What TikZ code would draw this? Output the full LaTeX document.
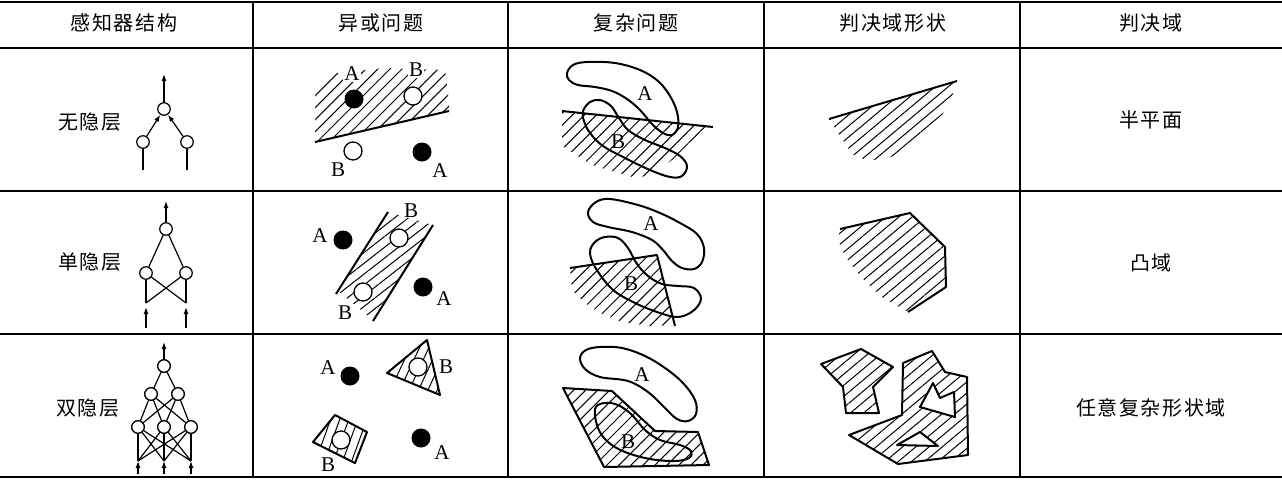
\documentclass[tikz,border=0pt]{standalone}
\usepackage{fontspec}
\setmainfont{Liberation Serif}
\newfontfamily\cjk[LetterSpace=8]{Noto Sans CJK SC}
\usetikzlibrary{patterns.meta,arrows.meta}
\begin{document}
\begin{tikzpicture}[x=1pt,y=-1pt,
  gridline/.style={line width=1.2pt},
  heavy/.style={line width=2.5pt},
  hd/.style={font=\cjk\fontsize{20}{20}\selectfont, inner sep=0},
  lab/.style={font=\fontsize{21}{21}\selectfont, inner sep=0},
  neuron/.style={circle,draw,line width=1.2pt,fill=white,minimum size=12.5pt,inner sep=0},
  arr/.style={line width=1.2pt,-{Latex[length=7pt,width=5pt]}},
  conn/.style={line width=1.2pt},
  dotA/.style={circle,fill=black,minimum size=19pt,inner sep=0},
  dotB/.style={circle,draw,line width=1.3pt,fill=white,minimum size=18pt,inner sep=0},
  bnd/.style={line width=2pt, line join=round},
  hatch/.style={pattern={Lines[angle=#1,distance=8.5pt,line width=1pt]}},
  hatch/.default=45,
]
\useasboundingbox (0,0) rectangle (1282,483);
% ---------------- table ----------------
\draw[heavy] (0,2) -- (1282,2);
\draw[line width=1.6pt] (0,48) -- (1282,48);
\draw[gridline] (0,191) -- (1282,191);
\draw[gridline] (0,334) -- (1282,334);
\draw[heavy] (0,477) -- (1282,477);
\foreach \x in {253,508,764,1020} \draw[gridline] (\x,2) -- (\x,477);
% headers
\node[hd] (h1) at (124,23) {感知器结构};
\node[hd] (h2) at (381,23) {异或问题};
\node[hd] (h3) at (636,23) {复杂问题};
\node[hd] (h4) at (893,23) {判决域形状};
\node[hd] (h5) at (1151,23) {判决域};
% row labels
\node[hd] (r1) at (90,122) {无隐层};
\node[hd] (r2) at (90,262) {单隐层};
\node[hd] (r3) at (88,408) {双隐层};
\node[hd] (d1) at (1151,120) {半平面};
\node[hd] (d2) at (1151,263) {凸域};
\node[hd] (d3) at (1151,408) {任意复杂形状域};
% ---------------- networks ----------------
% no hidden layer
\node[neuron] (n1o) at (164,109) {};
\node[neuron] (n1a) at (143,142) {};
\node[neuron] (n1b) at (187,142) {};
\coordinate (n1out) at (164,74);
\coordinate (n1ia) at (143,170);
\coordinate (n1ib) at (187,170);
\draw[arr] (n1o) -- (n1out);
\draw[arr] (n1a) -- (n1o);
\draw[arr] (n1b) -- (n1o);
\draw[conn] (n1ia) -- (n1a);
\draw[conn] (n1ib) -- (n1b);
% one hidden layer
\node[neuron] (n2o) at (166,229) {};
\node[neuron] (n2a) at (146,273) {};
\node[neuron] (n2b) at (186,273) {};
\coordinate (n2out) at (166,201);
\coordinate (n2pa) at (146,303);
\coordinate (n2pb) at (186,303);
\coordinate (n2ia) at (146,328);
\coordinate (n2ib) at (186,328);
\draw[arr] (n2o) -- (n2out);
\draw[conn] (n2a) -- (n2o);
\draw[conn] (n2b) -- (n2o);
\draw[conn] (n2a) -- (n2pa);
\draw[conn] (n2a) -- (n2pb);
\draw[conn] (n2b) -- (n2pa);
\draw[conn] (n2b) -- (n2pb);
\draw[arr,shorten >=4pt] (n2ia) -- (n2pa);
\draw[arr,shorten >=4pt] (n2ib) -- (n2pb);
% two hidden layers
\node[neuron] (n3o) at (164,366) {};
\node[neuron] (n3p) at (151,394) {};
\node[neuron] (n3q) at (178,394) {};
\node[neuron] (n3a) at (138,427) {};
\node[neuron] (n3b) at (164,427) {};
\node[neuron] (n3c) at (191,427) {};
\coordinate (n3out) at (164,342);
\coordinate (n3pa) at (138,461);
\coordinate (n3pb) at (164,461);
\coordinate (n3pc) at (191,461);
\coordinate (n3ia) at (138,474);
\coordinate (n3ib) at (164,474);
\coordinate (n3ic) at (191,474);
\draw[arr] (n3o) -- (n3out);
\foreach \h in {n3p,n3q} {
  \draw[conn] (\h) -- (n3o);
  \foreach \g in {n3a,n3b,n3c} \draw[conn] (\g) -- (\h);
}
\foreach \g in {n3a,n3b,n3c} {
  \foreach \p in {n3pa,n3pb,n3pc} \draw[conn] (\g) -- (\p);
}
\draw[arr] (n3ia) -- (n3pa);
\draw[arr] (n3ib) -- (n3pb);
\draw[arr] (n3ic) -- (n3pc);
\foreach \h in {n3o,n3p,n3q,n3a,n3b,n3c} \node[neuron] at (\h) {};
% ---------------- XOR ----------------
% row 1
\fill[hatch] (315,142) -- (449,111) -- (449,100) -- (445,70) -- (385,68) -- (330,74) -- (315,88) -- cycle;
\coordinate (x1l) at (315,142);
\coordinate (x1r) at (449,111);
\draw[bnd] (x1l) -- (x1r);
\node[dotA] (x1a) at (354,99) {};
\node[dotB] (x1b) at (413,96) {};
\node[dotB] (x1c) at (353,151) {};
\node[dotA] (x1d) at (422,152) {};
\node[lab,fill=white,inner sep=1pt] (x1la) at (352,74) {A};
\node[lab,fill=white,inner sep=1pt] (x1lb) at (416,70) {B};
\node[lab] (x1lc) at (338,170) {B};
\node[lab] (x1ld) at (440,171) {A};
% row 2
\fill[hatch=38] (338,291) -- (388,212) -- (433,225) -- (373,320) -- cycle;
\coordinate (x2a1) at (336,294);
\coordinate (x2a2) at (388,212);
\coordinate (x2b1) at (373,321);
\coordinate (x2b2) at (433,225);
\draw[bnd] (x2a1) -- (x2a2);
\draw[bnd] (x2b1) -- (x2b2);
\node[dotB] (x2b) at (399,238) {};
\node[dotB] (x2c) at (363,292) {};
\node[dotA] (x2a) at (343,240) {};
\node[dotA] (x2d) at (423,287) {};
\node[lab] (x2la) at (320,236) {A};
\node[lab] (x2lb) at (411,211) {B};
\node[lab] (x2lc) at (345,313) {B};
\node[lab] (x2ld) at (444,299) {A};
% row 3
\draw[bnd,hatch=65] (387,373) -- (427,340) -- (440,395) -- cycle;
\node[dotB] (x3b) at (418,367) {};
\draw[bnd,hatch=70] (313,442) -- (335,415) -- (367,432) -- (355,463) -- cycle;
\node[dotB] (x3c) at (341,440) {};
\node[dotA] (x3a) at (350,376) {};
\node[dotA] (x3d) at (421,438) {};
\node[lab] (x3la) at (328,368) {A};
\node[lab] (x3lb) at (446,367) {B};
\node[lab] (x3lc) at (328,465) {B};
\node[lab] (x3ld) at (442,453) {A};
% ---------------- complex problem ----------------
% row 1
\fill[hatch] (562,111) -- (713,127) -- (705,131) -- (690,142) -- (672,160) -- (650,175) -- (636,178) -- (615,172) -- (592,165) -- (570,151) -- (562,146) -- cycle;
\coordinate (c1l) at (562,111);
\coordinate (c1r) at (713,127);
\draw[bnd] (c1l) -- (c1r);
\draw[bnd] plot[smooth cycle,tension=0.6] coordinates {(567,73) (573,65) (587,62) (615,63) (640,70) (658,81) (670,96) (677,112) (678,127) (672,135) (663,133) (652,124) (640,110) (627,99) (612,91) (595,87) (578,85) (569,80)};
\draw[bnd] plot[smooth cycle,tension=0.6] coordinates {(583,111) (590,102) (600,100) (611,106) (619,118) (628,130) (645,140) (665,148) (680,156) (687,166) (682,176) (670,177) (650,170) (625,158) (603,146) (590,133) (584,121)};
\node[lab] (c1a) at (645,94) {A};
\node[lab] (c1b) at (618,142) {B};
% row 2
\fill[hatch] (570,268) -- (657,255) -- (675,325) -- (650,326) -- (622,322) -- (600,313) -- (585,303) -- (572,290) -- cycle;
\coordinate (c2a) at (570,268);
\coordinate (c2b) at (657,255);
\coordinate (c2c) at (675,326);
\draw[bnd] (c2a) -- (c2b) -- (c2c);
\draw[bnd] plot[smooth cycle,tension=0.6] coordinates {(588,212) (596,202) (610,199) (638,205) (660,213) (680,223) (697,234) (704,248) (702,262) (694,269) (682,268) (672,261) (663,250) (652,240) (632,232) (608,227) (593,222)};
\draw[bnd] plot[smooth cycle,tension=0.6] coordinates {(605,237) (595,242) (590,252) (595,267) (612,289) (635,303) (660,313) (678,317) (693,311) (701,299) (694,288) (678,286) (662,284) (648,276) (637,264) (628,248) (618,238)};
\node[lab] (c2la) at (651,224) {A};
\node[lab] (c2lb) at (631,284) {B};
% row 3
\draw[bnd,hatch] (563,388) -- (612,391) -- (655,431) -- (698,432) -- (709,465) -- (604,467) -- cycle;
\draw[bnd] plot[smooth cycle,tension=0.6] coordinates {(580,358) (586,350) (600,347) (622,348) (645,356) (665,368) (683,383) (695,400) (696,414) (688,421) (677,419) (665,408) (648,392) (628,381) (600,377) (585,369)};
\draw[bnd] plot[smooth cycle,tension=0.6] coordinates {(595,409) (604,403) (618,405) (632,415) (645,430) (660,440) (680,445) (691,451) (689,458) (675,461) (650,459) (625,452) (608,442) (598,428)};
\node[lab] (c3la) at (642,375) {A};
\node[lab] (c3lb) at (628,442) {B};
% ---------------- decision region shapes ----------------
% row 1
\fill[hatch=40] (829,119) -- (957,81) -- (953,94) -- (945,110) -- (932,131) -- (914,146) -- (895,156) -- (868,161) -- (852,154) -- (838,133) -- cycle;
\coordinate (s1a) at (829,119);
\coordinate (s1b) at (957,81);
\draw[bnd] (s1a) -- (s1b);
% row 2
\fill[hatch=40] (840,229) -- (910,213) -- (945,247) -- (946,287) -- (908,312) -- (880,296) -- (860,276) -- (845,256) -- (838,240) -- cycle;
\coordinate (s2a) at (840,229);
\coordinate (s2b) at (910,213);
\coordinate (s2c) at (945,247);
\coordinate (s2d) at (946,287);
\coordinate (s2e) at (908,312);
\draw[bnd] (s2a) -- (s2b) -- (s2c) -- (s2d) -- (s2e);
% row 3
\draw[bnd,hatch=40] (821,364) -- (861,349) -- (893,367) -- (873,387) -- (879,413) -- (846,413) -- (843,387) -- cycle;
\draw[bnd,hatch=40,even odd rule] (903,363) -- (932,351) -- (945,372) -- (967,377) -- (968,455) -- (898,464) -- (849,435) -- (902,415) -- cycle
  (933,383) -- (940,398) -- (954,392) -- (955,417) -- (920,407) -- cycle
  (897,445) -- (920,432) -- (938,446) -- cycle;
\end{tikzpicture}
\end{document}
